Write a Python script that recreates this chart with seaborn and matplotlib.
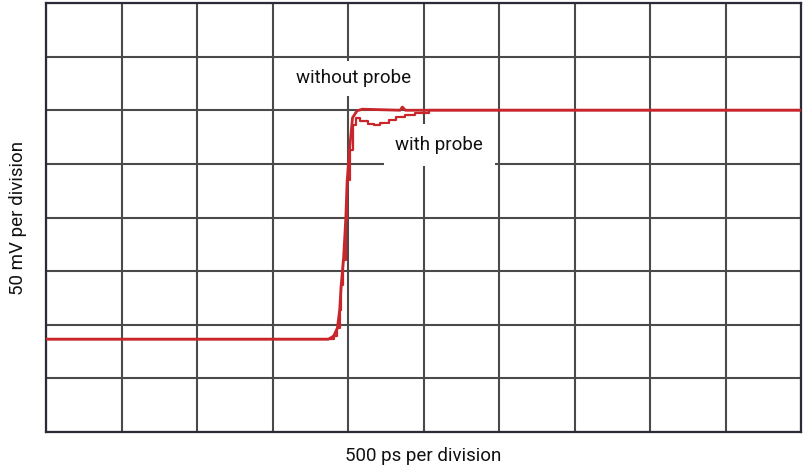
import matplotlib
matplotlib.use("Agg")
import matplotlib.pyplot as plt
import seaborn as sns
import pandas as pd

# time in divisions (500 ps/div), voltage in divisions (50 mV/div)
with_probe_t = [0.0, 3.74, 3.81, 3.86, 3.89, 3.91, 3.94, 3.97, 3.99, 4.02, 4.06, 4.10,
                4.16, 4.26, 4.34, 4.43, 4.54, 4.63, 4.76, 4.89, 5.07, 10.0]
with_probe_v = [1.73, 1.73, 1.79, 1.94, 2.28, 2.74, 3.21, 3.96, 4.70, 5.26, 5.73, 5.86,
                5.80, 5.75, 5.73, 5.76, 5.82, 5.88, 5.91, 5.95, 6.00, 6.00]
without_probe_t = [0.0, 3.74, 3.81, 3.86, 3.89, 3.91, 3.94, 3.97, 3.99, 4.02, 4.06, 4.12,
                   4.19, 4.69, 4.72, 4.76, 5.07, 10.0]
without_probe_v = [1.73, 1.73, 1.79, 1.94, 2.28, 2.74, 3.21, 3.96, 4.70, 5.26, 5.86, 5.99,
                   6.02, 6.00, 6.06, 6.00, 6.00, 6.00]

x_divisions = list(range(11))
y_divisions = list(range(9))
x_label = "500 ps per division"
y_label = "50 mV per division"

sns.set_style("white")
plt.rcParams["font.family"] = ["Roboto", "DejaVu Sans"]

fig = plt.figure(figsize=(8.08, 4.73), dpi=100)
ax = fig.add_axes([46/808, 41/473, 755/808, 429/473])

red = "#c9262b"
df_w = pd.DataFrame({"t": with_probe_t, "v": with_probe_v})
df_wo = pd.DataFrame({"t": without_probe_t, "v": without_probe_v})
sns.lineplot(data=df_w, x="t", y="v", ax=ax, color=red, lw=1.6, sort=False,
             estimator=None, zorder=3, drawstyle="steps-post")
sns.lineplot(data=df_wo, x="t", y="v", ax=ax, color=red, lw=2.0, sort=False,
             estimator=None, zorder=3)

ax.set_xlim(0, 10)
ax.set_ylim(0, 8)
ax.set_xticks(x_divisions)
ax.set_yticks(y_divisions)
ax.tick_params(length=0, labelbottom=False, labelleft=False)
ax.grid(True, color="#4a4a4a", lw=1.5, zorder=1)
ax.set_axisbelow(True)
for s in ax.spines.values():
    s.set_color("#2a2a38")
    s.set_linewidth(1.6)

ax.set_xlabel(x_label, fontsize=13.5, labelpad=11, color="#111111")
ax.set_ylabel(y_label, fontsize=13.5, labelpad=14, color="#111111")

ax.text(4.08, 6.6, "without probe", ha="center", va="center", fontsize=13.5,
        color="#111111", zorder=5,
        bbox=dict(boxstyle="square,pad=0.45", fc="white", ec="none"))
ax.text(5.21, 5.35, "with probe", ha="center", va="center", fontsize=13.5,
        color="#111111", zorder=5,
        bbox=dict(boxstyle="square,pad=0.62", fc="white", ec="none"))

fig.savefig("out.png", dpi=100)
